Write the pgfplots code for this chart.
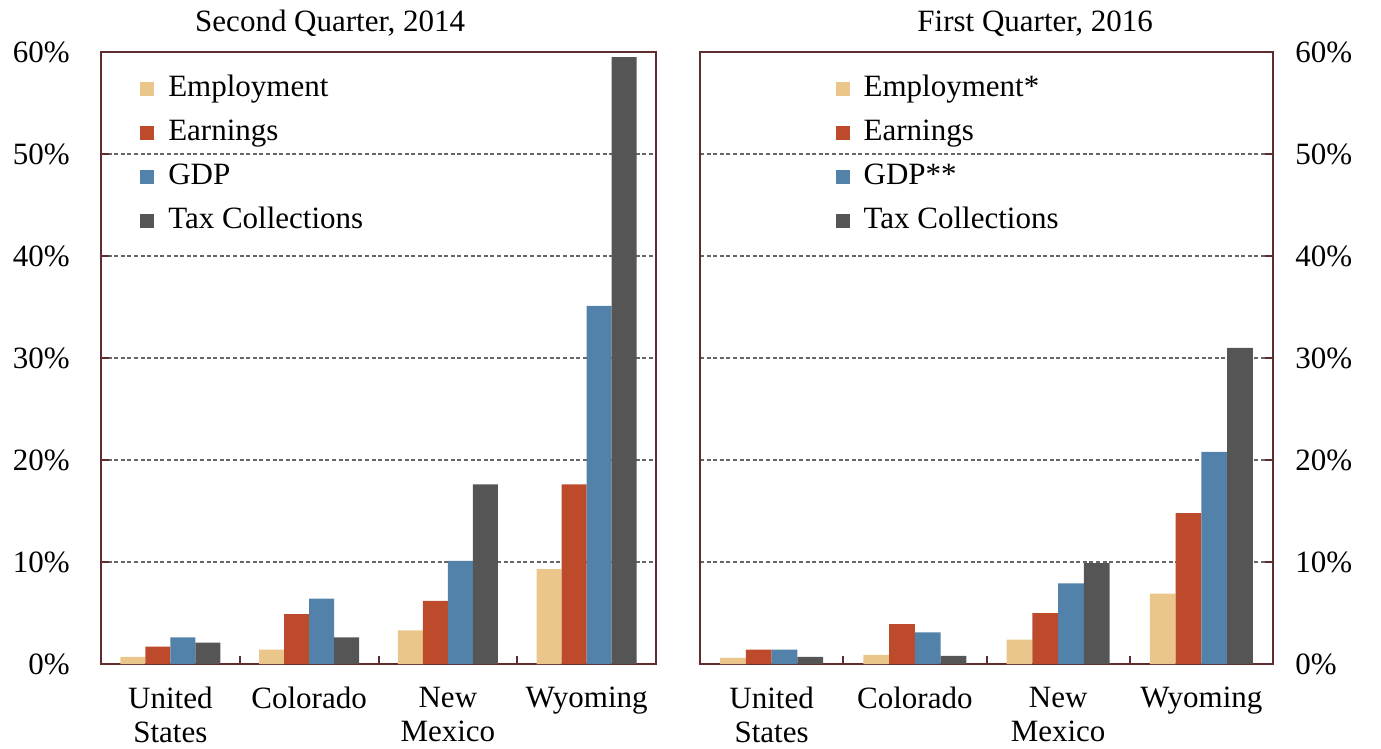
\documentclass[border=0pt]{standalone}
\usepackage{pgfplots}
\usepackage{pgfplotstable}
\pgfplotsset{compat=1.18}
\usepackage{fontspec}
\setmainfont{Liberation Serif}
\definecolor{emp}{RGB}{234,198,138}
\definecolor{earn}{RGB}{190,74,44}
\definecolor{gdp}{RGB}{82,130,170}
\definecolor{tax}{RGB}{85,85,85}
\definecolor{frame}{RGB}{95,45,45}

\pgfplotstableread{
x emp earn gdp tax
0 0.7 1.7 2.6 2.1
1 1.4 4.9 6.4 2.6
2 3.3 6.2 10.1 17.6
3 9.3 17.6 35.1 59.5
}\dataA
\pgfplotstableread{
x emp earn gdp tax
0 0.6 1.4 1.4 0.7
1 0.9 3.9 3.1 0.8
2 2.4 5.0 7.9 9.9
3 6.9 14.8 20.8 31.0
}\dataB

\newcommand{\fs}{\fontsize{15.5}{17}\selectfont}

\pgfplotsset{
  panel/.style={
    scale only axis,
    height=306pt,
    ymin=0, ymax=60, xmin=-0.5, xmax=3.5,
    ytick={0,10,...,60},
    /pgf/number format/assume math mode=true,
    yticklabel={\pgfmathprintnumber{\tick}\%},
    xtick={-0.5,0.5,1.5,2.5,3.5},
    x tick label as interval,
    xticklabels={United\\States, Colorado, New\\Mexico, Wyoming},
    xtick pos=bottom,
    tick align=inside,
    major tick length=4pt,
    tick style={draw=frame, line width=1pt},
    axis line style={draw=frame, line width=1pt},
    ymajorgrids,
    major grid style={draw=black!60, line width=0.6pt, dash pattern=on 2pt off 1.3pt},
    tick label style={font=\fs},
    xticklabel style={align=center, anchor=north, inner sep=0pt, yshift=-11.5pt},
    title style={font=\fs, anchor=base, yshift=4.5pt},
    legend style={draw=none, fill=none, font=\fs, anchor=north west,
      inner sep=0pt, row sep=7pt, column sep=7pt,
      nodes={inner sep=0pt, text height=11pt, text depth=4pt}},
    legend cell align=left,
    legend image code/.code={\fill[##1] (0pt,-3.5pt) rectangle (7pt,3.5pt);},
  },
  bstyle/.style={ybar, bar width=0.18, draw=none},
}

\begin{document}
\begin{tikzpicture}
\useasboundingbox (0,0) rectangle (690.5pt,-374.5pt);
\begin{axis}[panel, width=277.5pt, at={(50.5pt,-332pt)}, anchor=south west,
  ytick pos=left,
  yticklabel style={anchor=east, inner sep=0pt, xshift=-15.5pt},
  title={Second Quarter, 2014}, title style={at={(0.413,1)}},
  legend style={at={(0.070,0.964)}}]
\addplot[bstyle, fill=emp, bar shift=-0.27] table[x=x,y=emp]{\dataA};
\addplot[bstyle, fill=earn, bar shift=-0.09] table[x=x,y=earn]{\dataA};
\addplot[bstyle, fill=gdp, bar shift=0.09] table[x=x,y=gdp]{\dataA};
\addplot[bstyle, fill=tax, bar shift=0.27] table[x=x,y=tax]{\dataA};
\legend{Employment, Earnings, GDP, Tax Collections}
\end{axis}
\begin{axis}[panel, width=286.5pt, at={(350pt,-332pt)}, anchor=south west,
  ytick pos=right,
  yticklabel style={anchor=west, inner sep=0pt, xshift=11pt},
  title={First Quarter, 2016}, title style={at={(0.585,1)}},
  legend style={at={(0.236,0.964)}}]
\addplot[bstyle, fill=emp, bar shift=-0.27] table[x=x,y=emp]{\dataB};
\addplot[bstyle, fill=earn, bar shift=-0.09] table[x=x,y=earn]{\dataB};
\addplot[bstyle, fill=gdp, bar shift=0.09] table[x=x,y=gdp]{\dataB};
\addplot[bstyle, fill=tax, bar shift=0.27] table[x=x,y=tax]{\dataB};
\legend{Employment*, Earnings, GDP**, Tax Collections}
\end{axis}
\end{tikzpicture}
\end{document}
